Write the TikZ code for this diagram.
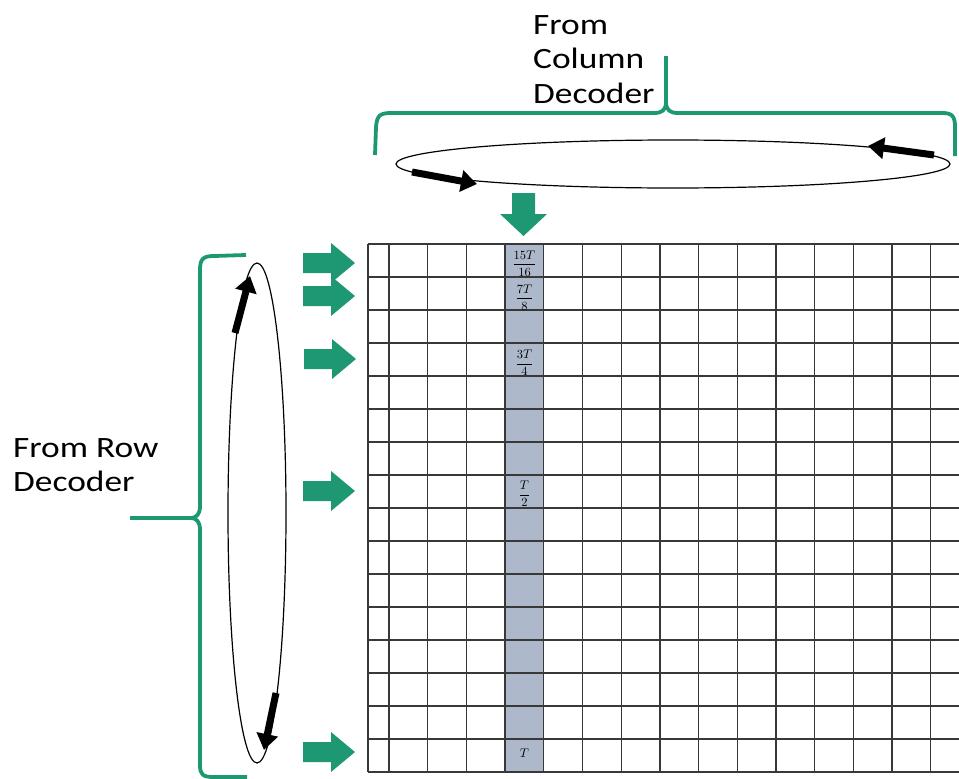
\documentclass[tikz,border=0pt]{standalone}
\usepackage{fontspec}
\usepackage{graphicx}
\setmainfont{Carlito}
\newfontfamily\lblfont[FakeStretch=1.2]{Carlito}
\usetikzlibrary{arrows.meta}
\definecolor{gr}{RGB}{30,152,115}
\definecolor{shadecol}{RGB}{173,185,203}
\newcommand{\dfr}[2]{\scalebox{1.25}{$\displaystyle\frac{#1}{#2}$}}
\begin{document}
\begin{tikzpicture}[x=1pt,y=-1pt,
  gridline/.style={line width=1.3pt, black!78},
  brace/.style={gr, line width=3.8pt, line join=round},
  ring/.style={line width=1.2pt, black},
  blk/.style={line width=7pt, -{Triangle[length=16pt,width=21pt]}},
  lbl/.style={inner sep=0pt, align=left, font=\lblfont\fontsize{29.5}{34.5}\selectfont},
  fr/.style={inner sep=0pt, font=\fontsize{10}{12}\selectfont},
  garrow/.pic={\fill[gr] (0,0) -- (-24,-20) -- (-24,-10) -- (-52,-10) -- (-52,10) -- (-24,10) -- (-24,20) -- cycle;}
]
\useasboundingbox (0,0) rectangle (959,779);

% shaded column
\fill[shadecol] (505.1,244) rectangle (543.8,772);
% grid
\foreach \i in {0,...,16} \draw[gridline] (368,{244+33*\i}) -- (959,{244+33*\i});
\draw[gridline] (368,244) -- (368,772);
\foreach \k in {0,...,14} \draw[gridline] ({389+38.7*\k},244) -- ({389+38.7*\k},772);

% labels in shaded column
\node[fr] (f1) at (524.5,263.5) {\dfr{15T}{16}};
\node[fr] (f2) at (524.5,297.5) {\dfr{7T}{8}};
\node[fr] (f3) at (524.5,363) {\dfr{3T}{4}};
\node[fr] (f4) at (524.5,494) {\dfr{T}{2}};
\node[fr] (f5) at (524.5,753) {\scalebox{1.25}{$T$}};

% green arrows (rows)
\pic at (355,263) {garrow};
\pic at (355,296) {garrow};
\pic at (356,359) {garrow};
\pic at (355,491) {garrow};
\pic at (355,752) {garrow};
% green arrow (column)
\fill[gr] (523.5,236) -- (547,214) -- (535,214) -- (535,193) -- (512,193) -- (512,214) -- (500,214) -- cycle;

% top ellipse and brace
\draw[ring] (673,164) ellipse [x radius=277, y radius=24];
\draw[brace] (375,155) -- (376,127) .. controls (377,115) and (380,113) .. (392,113) -- (654,113) .. controls (662,113) and (666,110) .. (666,102) -- (666,56);
\draw[brace] (666,102) .. controls (666,110) and (670,113) .. (678,113) -- (942,113) .. controls (952,113) and (955,116) .. (955,127) -- (955,156);

% left ellipse and brace
\draw[ring] (257,513) ellipse [x radius=29, y radius=250];
\draw[brace] (246,255) -- (214,256) .. controls (203,256) and (200,259) .. (200,270) -- (200,506) .. controls (200,514) and (197,518) .. (190,518) -- (130,518);
\draw[brace] (190,518) .. controls (197,518) and (200,522) .. (200,530) -- (200,765) .. controls (200,775) and (203,777) .. (214,777) -- (247,777);

% black arrows on ellipses
\coordinate (a1s) at (412,172); \coordinate (a1e) at (477,184);
\coordinate (a2s) at (934,155); \coordinate (a2e) at (868,146);
\coordinate (a3s) at (235,333); \coordinate (a3e) at (250,276);
\coordinate (a4s) at (276,693); \coordinate (a4e) at (264,750);
\draw[blk] (a1s) -- (a1e);
\draw[blk] (a2s) -- (a2e);
\draw[blk] (a3s) -- (a3e);
\draw[blk] (a4s) -- (a4e);

% texts
\node[lbl, anchor=north west] (row) at (13,438) {From Row\\Decoder};
\node[lbl, anchor=north west] (col) at (533,15) {From\\Column\\Decoder};
\end{tikzpicture}
\end{document}
